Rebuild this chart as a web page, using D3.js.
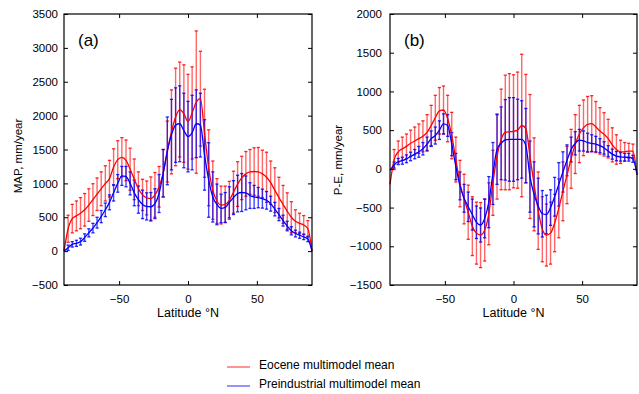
<!DOCTYPE html>
<html>
<head>
<meta charset="utf-8">
<script src="https://cdn.jsdelivr.net/npm/d3@7"></script>
<style>
  body { margin: 0; background: #fff; }
  svg { display: block; }
</style>
</head>
<body>
<div id="chart"></div>
<script>
// latitude of each model band (deg N)
const lats = [-87, -84, -81, -78, -75, -72, -69, -66, -63, -60,
  -57, -54, -51, -48, -45, -42, -39, -36, -33, -30,
  -27, -24, -21, -18, -15, -12, -9, -6, -3, 0,
  3, 6, 9, 12, 15, 18, 21, 24, 27, 30,
  33, 36, 39, 42, 45, 48, 51, 54, 57, 60,
  63, 66, 69, 72, 75, 78, 81, 84, 87];

// (a) mean annual precipitation, mm/year
const eoceneMAP = [330, 480, 520, 560, 610, 680, 760, 840, 920, 1000,
  1070, 1240, 1350, 1385, 1340, 1210, 1060, 920, 830, 785,
  775, 830, 950, 1150, 1470, 1760, 1980, 2090, 2030, 1910,
  2040, 2200, 2250, 1740, 1230, 900, 740, 680, 690, 750,
  870, 990, 1080, 1140, 1170, 1175, 1170, 1140, 1090, 1010,
  900, 790, 690, 590, 500, 440, 410, 385, 330];
const eoceneMAPErr = [200, 210, 220, 230, 240, 240, 235, 240, 250, 260,
  270, 270, 280, 290, 300, 310, 300, 250, 230, 250,
  320, 330, 300, 350, 450, 620, 720, 700, 720, 700,
  680, 1050, 700, 650, 560, 430, 330, 280, 270, 280,
  310, 330, 320, 330, 330, 350, 360, 350, 370, 320,
  330, 300, 280, 270, 230, 170, 150, 140, 120];
const preindMAP = [50, 100, 115, 140, 200, 270, 340, 420, 510, 610,
  720, 860, 1000, 1110, 1100, 1000, 860, 760, 690, 660,
  655, 700, 850, 1150, 1480, 1720, 1860, 1880, 1780, 1690,
  1750, 1880, 1860, 1420, 1050, 800, 690, 630, 645, 720,
  790, 850, 865, 860, 820, 800, 790, 775, 750, 700,
  620, 540, 450, 370, 300, 260, 235, 210, 180];
const preindMAPErr = [40, 40, 45, 50, 55, 60, 70, 80, 90, 100,
  110, 120, 130, 140, 150, 170, 190, 200, 210, 200,
  210, 220, 280, 350, 500, 520, 550, 560, 550, 520,
  550, 500, 470, 520, 550, 370, 300, 210, 220, 230,
  250, 270, 280, 250, 190, 170, 150, 140, 130, 110,
  100, 90, 80, 70, 60, 50, 45, 40, 40];

// (b) precipitation minus evaporation, mm/year
const eocenePE = [120, 220, 260, 290, 330, 360, 390, 420, 470, 560,
  660, 750, 760, 650, 430, 120, -190, -390, -560, -740,
  -830, -855, -790, -580, -180, 160, 380, 470, 480, 485,
  500, 560, 520, 160, -200, -540, -780, -855, -830, -700,
  -510, -290, -80, 130, 320, 450, 530, 575, 585, 540,
  490, 445, 390, 310, 250, 220, 220, 230, 230];
const eocenePEErr = [130, 140, 150, 160, 170, 180, 190, 200, 230, 260,
  290, 300, 310, 300, 300, 290, 300, 320, 350, 380,
  400, 420, 400, 400, 420, 550, 650, 740, 750, 730,
  750, 920, 700, 800, 600, 500, 420, 400, 400, 370,
  380, 380, 370, 380, 380, 370, 360, 360, 360, 330,
  300, 280, 250, 220, 190, 150, 120, 100, 90];
const preindPE = [50, 95, 105, 130, 160, 190, 220, 260, 320, 390,
  430, 500, 580, 560, 320, 30, -220, -380, -490, -590,
  -690, -725, -640, -430, -60, 250, 330, 375, 380, 380,
  380, 380, 300, -100, -330, -480, -580, -590, -500, -360,
  -200, -40, 110, 250, 330, 370, 360, 340, 330, 320,
  300, 270, 230, 190, 165, 155, 150, 150, 130];
const preindPEErr = [40, 40, 45, 50, 55, 60, 70, 80, 90, 100,
  110, 120, 130, 140, 150, 170, 180, 180, 190, 200,
  210, 220, 250, 330, 400, 450, 470, 520, 540, 540,
  520, 500, 480, 460, 420, 360, 300, 250, 230, 250,
  280, 260, 200, 160, 150, 140, 130, 120, 110, 100,
  90, 80, 70, 65, 60, 55, 50, 50, 45];

// curve values at the poles, [-90, 90]
const eoceneMAPPoles = [0, 0];
const preindMAPPoles = [0, 0];
const eocenePEPoles = [-200, -80];
const preindPEPoles = [-20, -70];

const xTicks = [-50, 0, 50];
const mapTicks = [-500, 0, 500, 1000, 1500, 2000, 2500, 3000, 3500];
const peTicks = [-1500, -1000, -500, 0, 500, 1000, 1500, 2000];

const legendLabels = ["Eocene multimodel mean", "Preindustrial multimodel mean"];
const colors = { eocene: "#ff0000", preind: "#0000ff" };
const font = "'Liberation Sans', Arial, sans-serif";

const svg = d3.select("#chart").append("svg")
  .attr("width", 639)
  .attr("height", 394);

function panel(opts) {
  const x = d3.scaleLinear().domain([-90, 90]).range([opts.left, opts.right]);
  const y = d3.scaleLinear().domain(opts.yDomain).range([285, 14]);
  const g = svg.append("g");

  // error bars, eocene first so preindustrial sits on top
  const series = [
    { mean: opts.eo, err: opts.eoErr, color: colors.eocene, op: 0.6 },
    { mean: opts.pi, err: opts.piErr, color: colors.preind, op: 0.72 }
  ];
  series.forEach(s => {
    const bars = g.append("g")
      .selectAll("g")
      .data(lats.map((lat, i) => ({ lat, m: s.mean[i], e: s.err[i] })))
      .join("g");
    bars.append("line")
      .attr("x1", d => x(d.lat)).attr("x2", d => x(d.lat))
      .attr("y1", d => y(d.m - d.e)).attr("y2", d => y(d.m + d.e))
      .attr("stroke", s.color).attr("stroke-width", 1.4)
      .attr("stroke-opacity", s.op);
    [-1, 1].forEach(k => {
      bars.append("line")
        .attr("x1", d => x(d.lat) - 1.6).attr("x2", d => x(d.lat) + 1.6)
        .attr("y1", d => y(d.m + k * d.e)).attr("y2", d => y(d.m + k * d.e))
        .attr("stroke", s.color).attr("stroke-width", 1.3)
        .attr("stroke-opacity", 0.85);
    });
  });

  // mean curves
  const line = d3.line()
    .x(d => x(d[0])).y(d => y(d[1]))
    .curve(d3.curveMonotoneX);
  [[opts.eo, opts.eoPoles, colors.eocene], [opts.pi, opts.piPoles, colors.preind]]
    .forEach(([vals, poles, c]) => {
      const pts = [[-90, poles[0]]]
        .concat(lats.map((lat, i) => [lat, vals[i]]))
        .concat([[90, poles[1]]]);
      g.append("path")
        .attr("d", line(pts))
        .attr("fill", "none")
        .attr("stroke", c)
        .attr("stroke-width", 1.3);
    });

  // axes, MATLAB style: ticks inside on all four sides
  const yl = g.append("g")
    .attr("transform", `translate(${opts.left},0)`)
    .call(d3.axisLeft(y).tickValues(opts.yTicks).tickSize(-4).tickPadding(opts.yPad).tickFormat(d3.format("d")));
  const yr = g.append("g")
    .attr("transform", `translate(${opts.right},0)`)
    .call(d3.axisRight(y).tickValues(opts.yTicks).tickSize(-4).tickFormat(""));
  const xb = g.append("g")
    .attr("transform", "translate(0,285)")
    .call(d3.axisBottom(x).tickValues(xTicks).tickSize(-4).tickPadding(10));
  const xt = g.append("g")
    .attr("transform", "translate(0,14)")
    .call(d3.axisTop(x).tickValues(xTicks).tickSize(-4).tickFormat(""));
  [yl, yr, xb, xt].forEach(a => {
    a.select(".domain").remove();
    a.selectAll(".tick line").attr("stroke", "#000");
    a.selectAll("text")
      .attr("font-family", font)
      .attr("font-size", 11.5)
      .attr("fill", "#000");
  });

  g.append("rect")
    .attr("x", opts.left).attr("y", 14)
    .attr("width", opts.right - opts.left).attr("height", 271)
    .attr("fill", "none").attr("stroke", "#000").attr("stroke-width", 1.2);

  g.append("text")
    .attr("x", (opts.left + opts.right) / 2).attr("y", 317)
    .attr("text-anchor", "middle")
    .attr("font-family", font).attr("font-size", 12.5)
    .text("Latitude \u00b0N");

  g.append("text")
    .attr("transform", `translate(${opts.yLabelX},${opts.yLabelY}) rotate(-90)`)
    .attr("text-anchor", "middle")
    .attr("font-family", font).attr("font-size", 11.5)
    .text(opts.yLabel);

  g.append("text")
    .attr("x", opts.left + 14).attr("y", 46)
    .attr("font-family", font).attr("font-size", 17)
    .text(opts.tag);
}

panel({
  left: 64, right: 312, yDomain: [-500, 3500], yTicks: mapTicks, yPad: 6,
  eo: eoceneMAP, eoErr: eoceneMAPErr, pi: preindMAP, piErr: preindMAPErr,
  eoPoles: eoceneMAPPoles, piPoles: preindMAPPoles,
  yLabel: "MAP, mm/year", yLabelX: 22, yLabelY: 156, tag: "(a)"
});

panel({
  left: 390, right: 637, yDomain: [-1500, 2000], yTicks: peTicks, yPad: 8,
  eo: eocenePE, eoErr: eocenePEErr, pi: preindPE, piErr: preindPEErr,
  eoPoles: eocenePEPoles, piPoles: preindPEPoles,
  yLabel: "P-E, mm/year", yLabelX: 342, yLabelY: 160, tag: "(b)"
});

// legend
const legend = svg.append("g").attr("font-family", font).attr("font-size", 12);
legendLabels.forEach((label, i) => {
  const yy = 367 + i * 19;
  legend.append("line")
    .attr("x1", 227).attr("x2", 250).attr("y1", yy).attr("y2", yy)
    .attr("stroke", i === 0 ? colors.eocene : colors.preind)
    .attr("stroke-opacity", 0.7).attr("stroke-width", 1.2);
  legend.append("text")
    .attr("x", 259).attr("y", yy + 2)
    .text(label);
});
</script>
</body>
</html>
